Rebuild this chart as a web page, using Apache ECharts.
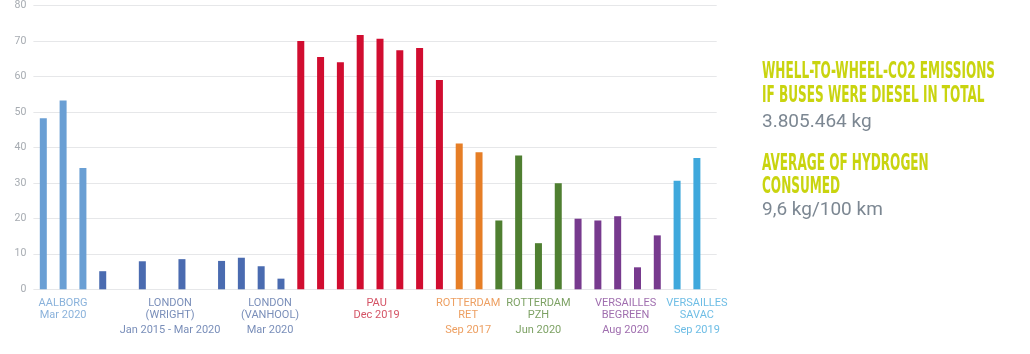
<!DOCTYPE html>
<html>
<head>
<meta charset="utf-8">
<script src="https://cdn.jsdelivr.net/npm/echarts@6/dist/echarts.min.js"></script>
<style>
  html, body { margin: 0; padding: 0; background: #ffffff; }
  #chart { width: 1030px; height: 354px; }
</style>
</head>
<body>
<div id="chart"></div>
<script>
// ---- data ----
const barSlots = [0, 1, 2, 3, 5, 7, 9, 10, 11, 12, 13, 14, 15, 16, 17, 18, 19, 20, 21, 22, 23, 24, 25, 26, 27, 28, 29, 30, 31, 32, 33];
const barValues = [48.2, 53.2, 34.2, 5.1, 7.9, 8.5, 8.0, 8.9, 6.5, 3.0, 70.0, 65.5, 64.0, 71.7, 70.6, 67.4, 68.0, 59.0, 41.1, 38.6, 19.4, 37.7, 13.0, 29.9, 19.9, 19.4, 20.6, 6.2, 15.2, 30.6, 37.0];
const barColorIdx = [0, 0, 0, 1, 1, 1, 1, 1, 1, 1, 2, 2, 2, 2, 2, 2, 2, 2, 3, 3, 4, 4, 4, 4, 5, 5, 5, 5, 5, 6, 6];
const barPalette = ['#6a9fd4', '#4a6bb0', '#d10d30', '#e67e26', '#4f7f31', '#773a8e', '#3fa8dc'];

const groupLabelPos = [1, 6.4, 11.45, 16.83, 21.45, 25, 29.4, 33];
const groupLabelLines = [
  ['AALBORG', 'Mar 2020'],
  ['LONDON', '(WRIGHT)', 'Jan 2015 - Mar 2020'],
  ['LONDON', '(VANHOOL)', 'Mar 2020'],
  ['PAU', 'Dec 2019'],
  ['ROTTERDAM', 'RET', 'Sep 2017'],
  ['ROTTERDAM', 'PZH', 'Jun 2020'],
  ['VERSAILLES', 'BEGREEN', 'Aug 2020'],
  ['VERSAILLES', 'SAVAC', 'Sep 2019']
];
const groupLabelColors = ['#6d9fd2', '#5872a8', '#c9283f', '#e8873a', '#5b8a3c', '#87489a', '#4aaddf'];
const groupLabelColorIdx = [0, 1, 1, 2, 3, 4, 5, 6];

const yMin = 0, yMax = 80, yStep = 10;

const sideHeadings = [
  ['WHELL-TO-WHEEL-CO2 EMISSIONS', 'IF BUSES WERE DIESEL IN TOTAL'],
  ['AVERAGE OF HYDROGEN', 'CONSUMED']
];
const sideValues = ['3.805.464 kg', '9,6 kg/100 km'];

// ---- chart ----
const chart = echarts.init(document.getElementById('chart'), null, { renderer: 'canvas' });

const barData = barSlots.map((s, i) => ({
  value: [s, barValues[i]],
  itemStyle: { color: barPalette[barColorIdx[i]] }
}));

const labelData = groupLabelPos.map((p, i) => ({
  value: [p, 0],
  label: { color: groupLabelColors[groupLabelColorIdx[i]] }
}));

const headFont = "'Liberation Sans Narrow', 'DejaVu Sans Condensed', 'Arial Narrow', sans-serif";
const headColor = '#c9d40f';
const valColor = '#7c8792';
const textX = 762;
const headCenters = [[72.5, 95.8], [164.2, 186.8]];
const valCenters = [122.5, 210];

const graphics = [];
sideHeadings.forEach((lines, gi) => {
  lines.forEach((t, li) => {
    graphics.push({
      type: 'text',
      x: textX,
      y: headCenters[gi][li],
      scaleX: 0.84,
      scaleY: 1.4,
      silent: true,
      style: {
        text: t,
        x: 0, y: 0,
        fill: headColor,
        font: "bold 16px " + headFont,
        textAlign: 'left',
        textVerticalAlign: 'middle'
      }
    });
  });
  graphics.push({
    type: 'text',
    x: textX,
    y: valCenters[gi],
    silent: true,
    style: {
      text: sideValues[gi],
      x: 0, y: 0,
      fill: valColor,
      font: "19px Roboto, 'Noto Sans', sans-serif",
      textAlign: 'left',
      textVerticalAlign: 'middle'
    }
  });
});

chart.setOption({
  animation: false,
  backgroundColor: '#ffffff',
  grid: { left: 33.4, right: 313.3, top: 5, bottom: 64.7, containLabel: false },
  xAxis: {
    type: 'value',
    min: -0.5,
    max: 34,
    axisLine: { show: false },
    axisTick: { show: false },
    axisLabel: { show: false },
    splitLine: { show: false }
  },
  yAxis: {
    type: 'value',
    min: yMin,
    max: yMax,
    interval: yStep,
    axisLine: { show: false },
    axisTick: { show: false },
    axisLabel: { color: '#a6abb1', fontSize: 10.5, fontFamily: 'Roboto, sans-serif', margin: 7 },
    splitLine: { lineStyle: { color: '#e6e7e9', width: 1 } }
  },
  series: [
    {
      type: 'bar',
      barWidth: 7,
      data: barData,
      z: 2
    },
    {
      type: 'scatter',
      symbolSize: 0,
      clip: false,
      silent: true,
      data: labelData,
      z: 3,
      label: {
        show: true,
        position: 'bottom',
        distance: 8,
        fontFamily: 'Roboto, sans-serif',
        fontSize: 11,
        align: 'center',
        formatter: (p) => {
          const lines = groupLabelLines[p.dataIndex];
          return lines.map((l, k) => '{' + (k < 2 ? 'a' : 'c') + '|' + l + '}').join('\n');
        },
        rich: {
          a: { lineHeight: 12, fontSize: 11, fontFamily: 'Roboto, sans-serif' },
          c: { lineHeight: 18, fontSize: 11, fontFamily: 'Roboto, sans-serif' }
        }
      }
    }
  ],
  graphic: graphics
});
</script>
</body>
</html>
